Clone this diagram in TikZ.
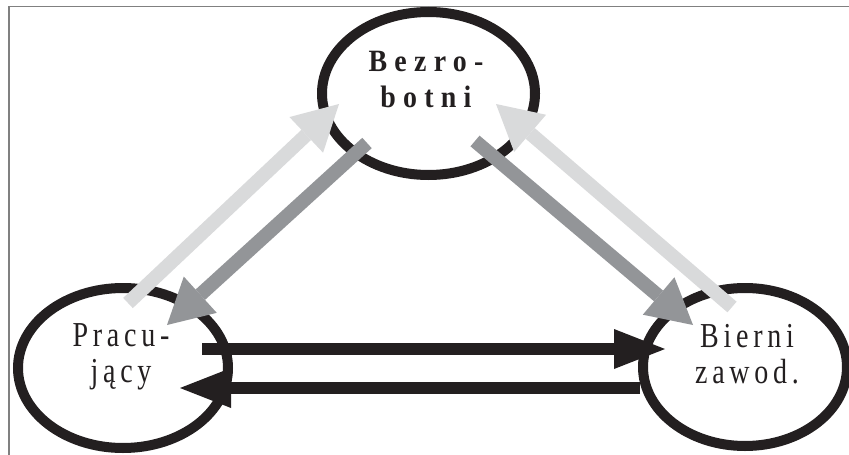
\documentclass[tikz,border=0pt]{standalone}
\usepackage{fontspec}
\usepackage{graphicx}
\setmainfont{Liberation Serif}
\newfontfamily\lblfont[LetterSpace=17]{Liberation Serif}
\newfontfamily\lblbold[LetterSpace=26]{Liberation Serif}
\usetikzlibrary{shapes.geometric,arrows.meta,calc}
\definecolor{inkblack}{HTML}{231F20}
\definecolor{lightarrow}{HTML}{D9DADB}
\definecolor{midarrow}{HTML}{939598}
\definecolor{framegray}{HTML}{808080}
\newcommand{\reglabel}[2]{\scalebox{0.8}[1]{\lblfont\fontsize{35}{36}\selectfont\begin{tabular}{@{}c@{}}#1\\#2\end{tabular}}}
\newcommand{\boldlabel}[2]{\scalebox{0.9}[1]{\lblbold\bfseries\fontsize{31}{36}\selectfont\begin{tabular}{@{}c@{}}#1\\#2\end{tabular}}}
\tikzset{
  state/.style={ellipse, draw=inkblack, line width=10pt, fill=white, inner sep=0pt},
  lbl/.style={inner sep=0pt, text=inkblack},
  diagarrow/.style={line width=14pt, -{Triangle[length=45pt,width=49pt,line width=0pt]}},
  lightflow/.style={diagarrow, draw=lightarrow, fill=lightarrow},
  midflow/.style={diagarrow, draw=midarrow, fill=midarrow},
  blackflow/.style={line width=12.5pt, draw=inkblack, fill=inkblack, -{Triangle[length=51pt,width=40pt,line width=0pt]}}
}
\begin{document}
\begin{tikzpicture}[x=1pt,y=-1pt]
\useasboundingbox (0,0) rectangle (849,455);
% frame
\draw[framegray, line width=1.5pt] (9,455) -- (9,6.5) -- (849,6.5);
% states
\node[state, minimum width=213pt, minimum height=163pt] (B) at (428.5,93.5) {};
\node[state, minimum width=210pt, minimum height=160pt] (P) at (123,368) {};
\node[state, minimum width=204pt, minimum height=158pt] (N) at (745,367) {};
% labels
\node[lbl] (Bt) at (426,82) {\boldlabel{Bezro-}{botni}};
\node[lbl] (Pt) at (121,357) {\reglabel{Pracu-}{jący}};
\node[lbl] (Nt) at (747,358) {\reglabel{Bierni}{zawod.}};
% arrow end points
\coordinate (a1s) at (128,303);
\coordinate (a1e) at (339,104);
\coordinate (a2s) at (367,143);
\coordinate (a2e) at (167,325);
\coordinate (a3s) at (475,141);
\coordinate (a3e) at (693,325);
\coordinate (a4s) at (732,307);
\coordinate (a4e) at (496,104);
\coordinate (a5s) at (202,349);
\coordinate (a5e) at (665,349);
\coordinate (a6s) at (640,388);
\coordinate (a6e) at (180,388);
% arrows
\draw[lightflow] (a1s) -- (a1e);
\draw[midflow] (a2s) -- (a2e);
\draw[midflow] (a3s) -- (a3e);
\draw[lightflow] (a4s) -- (a4e);
\draw[blackflow] (a5s) -- (a5e);
\draw[blackflow] (a6s) -- (a6e);
\end{tikzpicture}
\end{document}
